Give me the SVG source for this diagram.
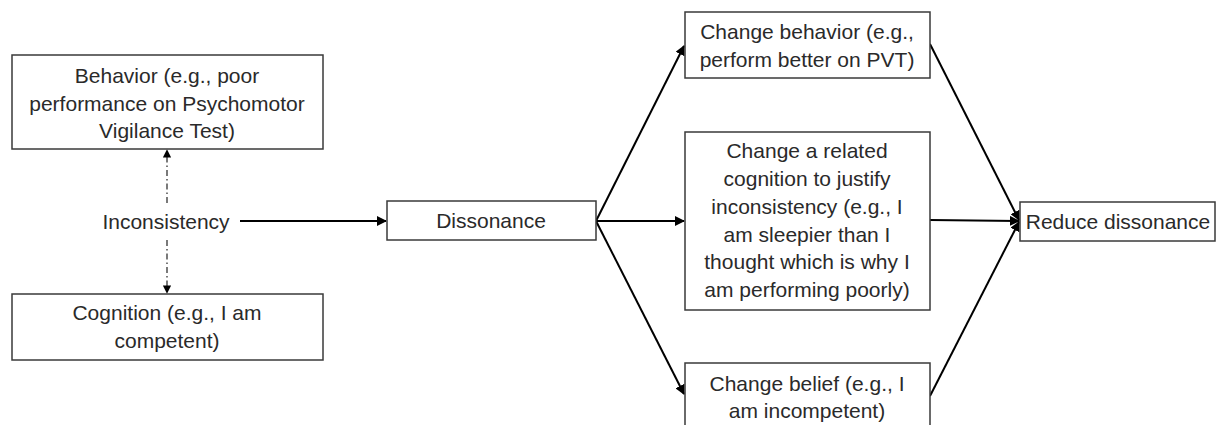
<svg xmlns="http://www.w3.org/2000/svg" width="1216" height="425" viewBox="0 0 1216 425">
<style>
.box{fill:#fff;stroke:#3a3a3a;stroke-width:1.5}
text{font-family:"Liberation Sans",Arial,sans-serif;font-size:21px;fill:#2a2a2a;text-anchor:middle}
.c{stroke:#000;stroke-width:2;fill:none;marker-end:url(#ah)}
.d{stroke:#222;stroke-width:1.2;fill:none;stroke-dasharray:6 3 1.5 3;marker-end:url(#ahs)}
</style>
<defs>
<marker id="ah" viewBox="0 0 10 10" refX="9" refY="5" markerWidth="5" markerHeight="5" orient="auto" markerUnits="strokeWidth"><path d="M0,0 L10,5 L0,10 z" fill="#000"/></marker>
<marker id="ahs" viewBox="0 0 10 10" refX="9" refY="5" markerWidth="7" markerHeight="7" orient="auto" markerUnits="strokeWidth"><path d="M0,0 L10,5 L0,10 z" fill="#000"/></marker>
</defs>
<g id="connectors">
<line class="d" x1="167" y1="203" x2="167" y2="150"/>
<line class="d" x1="167" y1="240" x2="167" y2="293"/>
<line class="c" x1="240" y1="221" x2="386" y2="221"/>
<line class="c" x1="596" y1="221" x2="684" y2="46"/>
<line class="c" x1="596" y1="221" x2="684" y2="221"/>
<line class="c" x1="596" y1="221" x2="684" y2="394"/>
<line class="c" x1="930" y1="44" x2="1019" y2="220"/>
<line class="c" x1="930" y1="220" x2="1019" y2="221"/>
<line class="c" x1="930" y1="396" x2="1019" y2="222"/>
</g>
<g id="behavior">
<rect class="box" x="12" y="55" width="311" height="94"/>
<text x="167" y="83">Behavior (e.g., poor</text>
<text x="167" y="111">performance on Psychomotor</text>
<text x="167" y="138">Vigilance Test)</text>
</g>
<g id="inconsistency">
<text x="166" y="229">Inconsistency</text>
</g>
<g id="cognition">
<rect class="box" x="12" y="294" width="311" height="66"/>
<text x="167" y="320">Cognition (e.g., I am</text>
<text x="167" y="348">competent)</text>
</g>
<g id="dissonance">
<rect class="box" x="387" y="201" width="209" height="39"/>
<text x="491" y="228">Dissonance</text>
</g>
<g id="change-behavior">
<rect class="box" x="685" y="12" width="245" height="66"/>
<text x="807" y="39">Change behavior (e.g.,</text>
<text x="807" y="67">perform better on PVT)</text>
</g>
<g id="change-cognition">
<rect class="box" x="685" y="132" width="245" height="178"/>
<text x="807" y="158">Change a related</text>
<text x="807" y="186">cognition to justify</text>
<text x="807" y="214">inconsistency (e.g., I</text>
<text x="807" y="242">am sleepier than I</text>
<text x="807" y="269">thought which is why I</text>
<text x="807" y="297">am performing poorly)</text>
</g>
<g id="change-belief">
<rect class="box" x="685" y="363" width="245" height="70"/>
<text x="807" y="391">Change belief (e.g., I</text>
<text x="807" y="418">am incompetent)</text>
</g>
<g id="reduce">
<rect class="box" x="1020" y="202" width="195" height="39"/>
<text x="1118" y="229">Reduce dissonance</text>
</g>
</svg>
